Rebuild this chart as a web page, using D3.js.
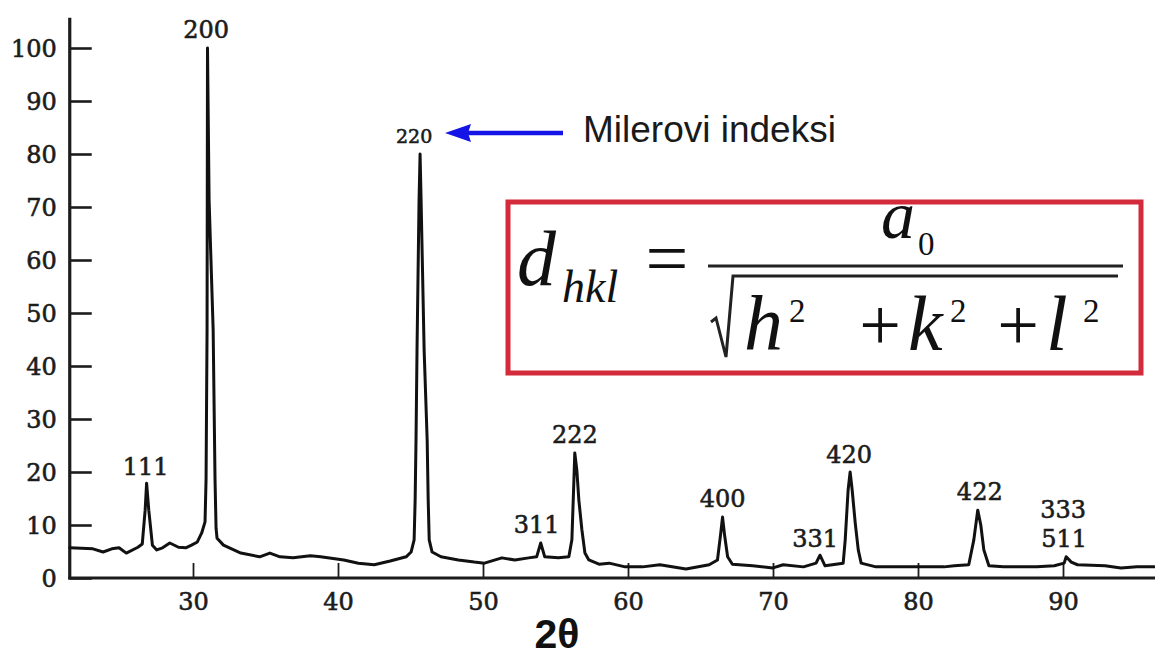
<!DOCTYPE html>
<html>
<head>
<meta charset="utf-8">
<script src="https://cdn.jsdelivr.net/npm/d3@7"></script>
<style>
  html, body { margin: 0; padding: 0; background: #ffffff; }
  svg { display: block; }
</style>
</head>
<body>
<svg id="chart" width="1155" height="659"></svg>
<script>
// ---- Data ----
const twoTheta = [21.5,23.1,23.8,24.4,24.9,25.4,26.2,26.5,26.7,26.8,26.95,27.2,27.5,27.9,28.4,29.0,29.5,29.9,30.3,30.6,30.83,30.9,30.97,31.0,31.11,31.39,31.52,31.59,31.66,32.1,33.3,34.6,35.3,36.0,36.9,38.1,38.8,40.4,41.4,42.5,43.6,44.7,45.04,45.25,45.32,45.38,45.45,45.59,45.66,45.73,45.94,46.15,46.22,46.29,46.49,47.1,48.3,49.4,50.1,51.3,52.2,53.15,53.7,53.98,54.26,55.2,55.92,56.13,56.27,56.33,56.47,56.61,56.82,57.03,57.3,58.0,58.7,59.8,61.0,62.2,64.0,65.6,66.17,66.38,66.52,66.66,66.87,67.2,68.6,70.0,70.7,72.1,72.97,73.24,73.59,74.84,74.98,75.18,75.32,75.46,75.67,75.88,76.08,77.1,79.5,81.8,82.5,83.5,83.85,84.12,84.33,84.54,84.89,85.9,88.2,89.4,90.08,90.22,90.57,91.0,92.9,94.0,95.1,96.3];
const intensity = [5.7,5.5,4.9,5.5,5.7,4.7,5.8,6.4,12.8,17.9,12.8,6.2,5.3,5.7,6.6,5.8,5.7,6.2,6.8,8.5,10.6,18.5,46.8,100,71.3,46.8,18.5,9.4,7.5,6.2,4.7,4.0,4.7,4.0,3.8,4.2,4.0,3.4,2.8,2.5,3.2,4.0,4.9,7.2,14.7,26.0,43.0,71.3,80,71.3,43.0,26.0,14.7,7.2,4.9,4.0,3.4,3.0,2.8,3.8,3.4,3.8,4.0,6.6,4.0,3.8,4.0,7.2,18.5,23.6,20.4,14.7,9.1,4.7,3.4,2.6,2.8,2.1,2.1,2.5,1.7,2.5,3.4,8.1,11.5,8.1,4.0,2.6,2.3,1.9,2.5,2.1,2.8,4.3,2.3,2.8,7.2,16.6,20.0,16.6,10.4,5.3,2.8,2.1,2.1,2.1,2.3,2.5,7.2,12.8,10.0,5.3,2.3,2.1,2.1,2.3,2.8,4.0,3.0,2.5,2.3,1.9,2.1,2.1];

const peakLabels = ["111","200","220","311","222","400","331","420","422","333","511"];
const peakLabelX = [26.74,30.9,45.25,53.7,56.33,66.52,72.9,75.25,84.26,90.01,90.08];
const peakLabelY = [19.4,101.9,82.1,8.5,25.5,13.4,5.85,21.7,14.7,11.3,5.85];
const peakLabelSmall = ["220"];

const xTicks = [30,40,50,60,70,80,90];
const yTicks = [0,10,20,30,40,50,60,70,80,90,100];
const xLabel = "2θ";
const annotationText = "Milerovi indeksi";

// ---- Scales ----
const svg = d3.select("#chart");
const x = d3.scaleLinear().domain([30, 90]).range([193, 1063]);
const y = d3.scaleLinear().domain([0, 100]).range([578, 48]);
const xMin = 21.5, xMax = 96.8, yTop = 105.7;

const serif = "'DejaVu Serif', serif";
const ink = "#1c1c1c";

// ---- Axes ----
const yAxis = d3.axisLeft(y).tickValues(yTicks).tickSize(-22).tickPadding(13).tickFormat(d3.format("d"));
const gy = svg.append("g").attr("transform", `translate(${x(xMin)},0)`).call(yAxis);
gy.select(".domain").remove();
gy.selectAll(".tick line").attr("stroke", ink).attr("stroke-width", 2.6);
gy.selectAll(".tick text").attr("font-family", serif).attr("font-size", 24)
  .attr("fill", ink).attr("stroke", ink).attr("stroke-width", 0.6).attr("dy", "0.36em");

const xAxis = d3.axisBottom(x).tickValues(xTicks).tickSize(-15).tickPadding(15).tickFormat(d3.format("d"));
const gx = svg.append("g").attr("transform", `translate(0,${y(0)})`).call(xAxis);
gx.select(".domain").remove();
gx.selectAll(".tick line").attr("stroke", ink).attr("stroke-width", 1.8);
gx.selectAll(".tick text").attr("font-family", serif).attr("font-size", 24)
  .attr("fill", ink).attr("stroke", ink).attr("stroke-width", 0.6);

// axis lines
svg.append("line").attr("x1", x(xMin)).attr("x2", x(xMin)).attr("y1", y(yTop)).attr("y2", y(0) + 1.5)
  .attr("stroke", ink).attr("stroke-width", 3.2);
svg.append("line").attr("x1", x(xMin) - 1.5).attr("x2", x(xMax)).attr("y1", y(0)).attr("y2", y(0))
  .attr("stroke", ink).attr("stroke-width", 3.2);

// ---- Pattern line ----
const pts = twoTheta.map((t, i) => [t, intensity[i]]);
const line = d3.line().x(d => x(d[0])).y(d => y(d[1]));
svg.append("path").datum(pts).attr("d", line)
  .attr("fill", "none").attr("stroke", "#111").attr("stroke-width", 3)
  .attr("stroke-linejoin", "round").attr("stroke-linecap", "round");

// ---- Peak labels ----
svg.append("g").selectAll("text").data(peakLabels).join("text")
  .attr("x", (d, i) => x(peakLabelX[i]))
  .attr("y", (d, i) => y(peakLabelY[i]))
  .attr("text-anchor", "middle")
  .attr("font-family", serif)
  .attr("font-size", d => peakLabelSmall.includes(d) ? 19 : 24)
  .attr("fill", ink).attr("stroke", ink).attr("stroke-width", 0.6)
  .text(d => d);

// ---- X label ----
svg.append("text").attr("x", 557).attr("y", 648).attr("text-anchor", "middle")
  .attr("font-family", "'Liberation Sans', Arial, sans-serif").attr("font-weight", "bold")
  .attr("font-size", 41).attr("fill", "#111").text(xLabel);

// ---- Annotation arrow ----
const blue = "#1414e6";
svg.append("line").attr("x1", 563).attr("x2", 466).attr("y1", 133).attr("y2", 133)
  .attr("stroke", blue).attr("stroke-width", 4.5);
svg.append("path").attr("d", "M445,133 L471,124 L468,133 L471,142 Z").attr("fill", blue);
svg.append("text").attr("x", 583).attr("y", 142)
  .attr("font-family", "'Liberation Sans', Arial, sans-serif").attr("font-size", 37)
  .attr("fill", "#1a1a1a").text(annotationText);

// ---- Formula box ----
svg.append("rect").attr("x", 508).attr("y", 202).attr("width", 633).attr("height", 171)
  .attr("fill", "#ffffff").attr("stroke", "#d32b3b").attr("stroke-width", 5);

const tnr = "'Liberation Serif', 'Times New Roman', serif";
const f = svg.append("g").attr("font-family", tnr).attr("fill", "#111");
f.append("text").attr("x", 517).attr("y", 285).attr("font-size", 78).attr("font-style", "italic").text("d");
f.append("text").attr("x", 562).attr("y", 302).attr("font-size", 46).attr("font-style", "italic").text("hkl");
f.append("text").attr("x", 667).attr("y", 284).attr("font-size", 76).attr("text-anchor", "middle").text("=");
f.append("text").attr("x", 881).attr("y", 238).attr("font-size", 68).attr("font-style", "italic").text("a");
f.append("text").attr("x", 918).attr("y", 255).attr("font-size", 33).text("0");
// fraction bar
svg.append("line").attr("x1", 708).attr("x2", 1123).attr("y1", 266).attr("y2", 266)
  .attr("stroke", "#222").attr("stroke-width", 3);
// radical
svg.append("path").attr("d", "M711,322 L716,318 L726,357 L733,276 L1118,276")
  .attr("fill", "none").attr("stroke", "#222").attr("stroke-width", 3).attr("stroke-linejoin", "miter");
f.append("text").attr("x", 744).attr("y", 350).attr("font-size", 78).attr("font-style", "italic").text("h");
f.append("text").attr("x", 789).attr("y", 322).attr("font-size", 33).text("2");
f.append("text").attr("x", 880).attr("y", 350).attr("font-size", 74).attr("text-anchor", "middle").text("+");
f.append("text").attr("x", 908).attr("y", 350).attr("font-size", 78).attr("font-style", "italic").text("k");
f.append("text").attr("x", 950).attr("y", 322).attr("font-size", 33).text("2");
f.append("text").attr("x", 1018).attr("y", 350).attr("font-size", 74).attr("text-anchor", "middle").text("+");
f.append("text").attr("x", 1046).attr("y", 350).attr("font-size", 78).attr("font-style", "italic").text("l");
f.append("text").attr("x", 1083).attr("y", 322).attr("font-size", 33).text("2");
</script>
</body>
</html>
